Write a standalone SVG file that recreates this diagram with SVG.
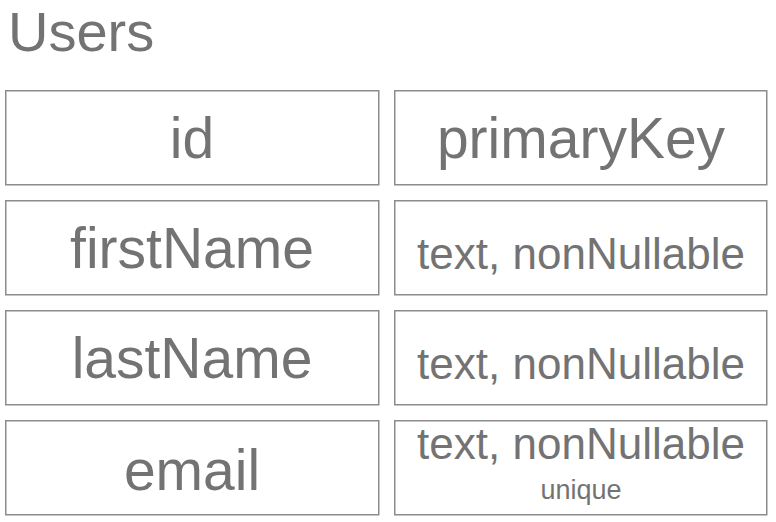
<svg xmlns="http://www.w3.org/2000/svg" width="776" height="522" viewBox="0 0 776 522">
<style>
.box{fill:#fff;stroke:#8c8c8c;stroke-width:1.5}
text{font-family:"Liberation Sans",Arial,Helvetica,sans-serif;fill:#737373;text-anchor:middle}
.big{font-size:57px}
.mid{font-size:44px}
.sm{font-size:27px}
</style>
<rect width="776" height="522" fill="#fff"/>
<text x="8" y="51" style="text-anchor:start;font-size:56px">Users</text>
<g id="row-id-name"><rect class="box" x="5.75" y="90.75" width="373" height="94"/><text class="big" x="192" y="158">id</text></g>
<g id="row-id-type"><rect class="box" x="394.75" y="90.75" width="372" height="94"/><text class="big" x="581" y="158">primaryKey</text></g>
<g id="row-firstName-name"><rect class="box" x="5.75" y="200.75" width="373" height="94"/><text class="big" x="192" y="268">firstName</text></g>
<g id="row-firstName-type"><rect class="box" x="394.75" y="200.75" width="372" height="94"/><text class="mid" x="581" y="269">text, nonNullable</text></g>
<g id="row-lastName-name"><rect class="box" x="5.75" y="310.75" width="373" height="94"/><text class="big" x="192" y="378">lastName</text></g>
<g id="row-lastName-type"><rect class="box" x="394.75" y="310.75" width="372" height="94"/><text class="mid" x="581" y="379">text, nonNullable</text></g>
<g id="row-email-name"><rect class="box" x="5.75" y="420.75" width="373" height="94"/><text class="big" x="192" y="490">email</text></g>
<g id="row-email-type"><rect class="box" x="394.75" y="420.75" width="372" height="94"/><text class="mid" x="581" y="459">text, nonNullable</text><text class="sm" x="581" y="499">unique</text></g>
<g id="connectors"/>
</svg>
